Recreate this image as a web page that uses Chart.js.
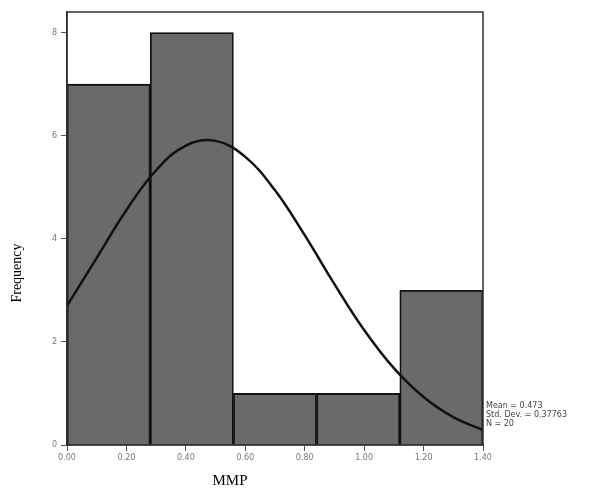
<!DOCTYPE html>
<html>
<head>
<meta charset="utf-8">
<script src="https://cdn.jsdelivr.net/npm/chart.js@4"></script>
<style>
  html, body { margin: 0; padding: 0; background: #fff; }
  #wrap { width: 600px; height: 497px; position: relative; }
</style>
</head>
<body>
<div id="wrap"><canvas id="hist"></canvas></div>
<script>
// histogram bins (centres) and counts
const binCenters = [0.14, 0.42, 0.70, 0.98, 1.26];
const binCounts = [7, 8, 1, 1, 3];

// normal curve
const curveX = [0, 0.1, 0.2, 0.3, 0.4, 0.5, 0.6, 0.7, 0.8, 0.9, 1.0, 1.1, 1.2, 1.3, 1.4];
const curveY = [2.70, 3.63, 4.56, 5.33, 5.81, 5.90, 5.59, 4.94, 4.07, 3.12, 2.23, 1.49, 0.93, 0.54, 0.29];

const yTicks = [0, 2, 4, 6, 8];
const statLines = ['Mean = 0.473', 'Std. Dev. = 0.37763', 'N = 20'];
const xTitle = 'MMP';
const yTitle = 'Frequency';

const decorations = {
    id: 'decorations',
    afterDraw(chart) {
        const ctx = chart.ctx;
        const area = chart.chartArea;
        ctx.save();

        // frame around plot
        ctx.strokeStyle = '#333';
        ctx.lineWidth = 1.5;
        ctx.strokeRect(area.left, area.top, area.right - area.left, area.bottom - area.top);

        // axis titles
        ctx.fillStyle = '#000';
        ctx.font = '15px "Liberation Serif", serif';
        ctx.textAlign = 'center';
        ctx.textBaseline = 'middle';
        ctx.fillText(xTitle, 230, 481);

        ctx.save();
        ctx.translate(17, 273);
        ctx.rotate(-Math.PI / 2);
        ctx.font = '14px "Liberation Serif", serif';
        ctx.fillText(yTitle, 0, 0);
        ctx.restore();

        // stats box text
        ctx.fillStyle = '#444';
        ctx.font = '8px "DejaVu Sans", sans-serif';
        ctx.textAlign = 'left';
        statLines.forEach((line, i) => {
            ctx.fillText(line, area.right + 3, 406 + i * 9);
        });

        ctx.restore();
    }
};

const ctx = document.getElementById('hist').getContext('2d');
new Chart(ctx, {
    data: {
        datasets: [
            {
                type: 'line',
                data: curveX.map((x, i) => ({ x: x, y: curveY[i] })),
                borderColor: '#111',
                borderWidth: 2.5,
                pointRadius: 0,
                tension: 0.4,
                fill: false,
                order: 0
            },
            {
                type: 'bar',
                data: binCenters.map((x, i) => ({ x: x, y: binCounts[i] })),
                backgroundColor: '#6a6a6a',
                borderColor: '#111',
                borderWidth: 1.8,
                barThickness: 'flex',
                barPercentage: 1,
                categoryPercentage: 1,
                order: 1
            }
        ]
    },
    options: {
        responsive: true,
        maintainAspectRatio: false,
        animation: false,
        layout: {
            padding: { top: 12, right: 117, left: 0, bottom: 0 }
        },
        plugins: {
            legend: { display: false },
            tooltip: { enabled: false }
        },
        scales: {
            x: {
                type: 'linear',
                min: 0,
                max: 1.4,
                offset: false,
                afterFit: (scale) => { scale.height = 52; },
                grid: {
                    display: true,
                    offset: false,
                    drawOnChartArea: false,
                    drawTicks: true,
                    tickLength: 6,
                    color: '#555'
                },
                border: { display: true, color: '#222', width: 1.5 },
                ticks: {
                    stepSize: 0.2,
                    maxRotation: 0,
                    color: '#777',
                    font: { size: 8, family: 'DejaVu Sans' },
                    padding: 2,
                    callback: (v) => v.toFixed(2)
                }
            },
            y: {
                min: 0,
                max: 8.4,
                afterFit: (scale) => { scale.width = 67; },
                afterBuildTicks: (scale) => {
                    scale.ticks = yTicks.map((v) => ({ value: v }));
                },
                grid: {
                    display: true,
                    drawOnChartArea: false,
                    drawTicks: true,
                    tickLength: 6,
                    color: '#555'
                },
                border: { display: true, color: '#222', width: 1.5 },
                ticks: {
                    color: '#777',
                    font: { size: 8, family: 'DejaVu Sans' },
                    padding: 4
                }
            }
        }
    },
    plugins: [decorations]
});
</script>
</body>
</html>
